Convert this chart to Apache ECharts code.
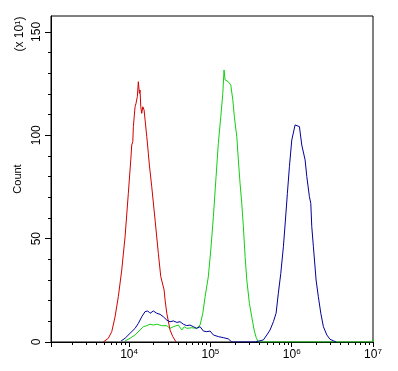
<!DOCTYPE html>
<html>
<head>
<meta charset="utf-8">
<script src="https://cdn.jsdelivr.net/npm/echarts@6/dist/echarts.min.js"></script>
<style>html,body{margin:0;padding:0;background:#fff}#c{width:398px;height:371px}</style>
</head>
<body>
<div id="c"></div>
<script>
// x values are log10(fluorescence intensity); y values are counts (x10)
const redLog = [3.684,3.745,3.787,3.828,3.868,3.910,3.951,3.991,4.021,4.033,4.046,4.053,4.074,4.086,4.102,4.114,4.127,4.135,4.144,4.156,4.169,4.185,4.197,4.218,4.237,4.250,4.258,4.279,4.320,4.360,4.390,4.431,4.443,4.464,4.504,4.538,4.578];
const redCount = [0,1.8,5.0,12.2,21.9,34.8,50.9,71.9,88.1,95.3,96.9,104.2,113.8,115.5,118.7,125.9,120.3,121.9,113.8,110.6,113.8,112.2,107.4,99.3,91.3,85.6,84.8,75.1,59.0,42.9,31.6,25.2,20.3,13.9,5.8,2.6,0];

const greenLog = [3.951,4.012,4.074,4.135,4.176,4.218,4.258,4.299,4.341,4.402,4.464,4.504,4.545,4.606,4.648,4.680,4.710,4.771,4.833,4.873,4.907,4.935,4.975,5.005,5.037,5.070,5.098,5.128,5.153,5.168,5.181,5.202,5.221,5.251,5.276,5.295,5.307,5.325,5.344,5.365,5.386,5.406,5.427,5.448,5.480,5.509,5.538,5.562,5.590,6.990,7.000];
const greenCount = [0.5,1.8,3.4,5.8,7.4,7.9,8.6,8.2,8.6,7.9,7.9,6.6,7.4,8.2,5.8,7.4,6.6,6.9,6.6,8.2,13.9,21.9,31.6,44.5,60.6,80.0,96.1,109.0,120.3,131.6,126.8,127.6,125.9,124.3,117.1,109.0,105.0,99.3,88.1,76.8,67.1,55.8,41.3,30.0,18.7,12.2,5.8,2.3,0,0,1.5];

const blueLog = [3.902,3.951,4.012,4.074,4.114,4.156,4.197,4.230,4.258,4.299,4.341,4.381,4.422,4.464,4.504,4.545,4.587,4.627,4.668,4.710,4.750,4.791,4.833,4.873,4.914,4.956,4.996,5.037,5.098,5.160,5.221,5.263,5.550,5.611,5.652,5.694,5.734,5.775,5.808,5.836,5.866,5.898,5.923,5.947,5.972,6.001,6.042,6.063,6.095,6.124,6.144,6.165,6.186,6.218,6.235,6.247,6.267,6.300,6.328,6.358,6.390,6.432,6.472,6.513,6.546];
const blueCount = [0.5,1.8,4.2,6.6,9.0,12.2,14.7,15.0,13.9,15.0,13.9,13.4,12.2,10.6,9.8,10.2,9.5,9.8,8.6,7.9,8.2,7.4,6.6,7.4,5.3,5.0,5.3,3.4,2.6,2.1,1.5,0,0,0.6,1.0,3.4,5.8,9.8,13.9,23.6,33.2,46.1,59.0,71.9,84.8,97.7,105.0,105.5,104.2,95.3,94.5,88.1,80.0,70.3,67.1,55.8,46.1,30.0,21.9,13.9,7.4,3.4,1.3,0.6,0];

const xMajorExp = [4,5,6,7];
const xMinorMult = [2,3,4,5,6,7,8,9];
const yLabels = [0,50,100,150];
const yMinor = [10,20,30,40,60,70,80,90,110,120,130,140];

const xMin = 3.04, xMax = 7, yMax = 157.7;
const xMinor = [];
[3,4,5,6].forEach(e => xMinorMult.forEach(m => { const v = e + Math.log10(m); if (v > xMin) xMinor.push(v); }));

const pairs = (xs, ys) => xs.map((x, i) => [x, ys[i]]);
const font = 'Liberation Sans, Arial, sans-serif';

const chart = echarts.init(document.getElementById('c'), null, {renderer: 'canvas'});
chart.setOption({
  animation: false,
  backgroundColor: '#fff',
  grid: {left: 51, top: 16, right: 25, bottom: 29, show: true, borderColor: '#000', borderWidth: 1, backgroundColor: 'transparent'},
  xAxis: [{
    type: 'value', min: xMin, max: xMax, position: 'bottom',
    axisLine: {show: true, lineStyle: {color: '#000', width: 1}},
    axisTick: {show: true, length: 5, lineStyle: {color: '#000'}, customValues: [xMin].concat(xMajorExp)},
    axisLabel: {
      customValues: xMajorExp, margin: 6, color: '#000', fontFamily: font,
      formatter: v => '{a|10}{b|' + Math.round(v) + '}',
      rich: {a: {fontSize: 12, fontFamily: font, color: '#000'}, b: {fontSize: 8, fontFamily: font, color: '#000', verticalAlign: 'top', padding: [0,0,6,0]}}
    },
    splitLine: {show: false}
  }, {
    type: 'value', min: xMin, max: xMax, position: 'bottom',
    axisLine: {show: false},
    axisTick: {show: true, length: 3, lineStyle: {color: '#000'}, customValues: xMinor},
    axisLabel: {show: false},
    splitLine: {show: false}
  }],
  yAxis: [{
    type: 'value', min: 0, max: yMax, position: 'left',
    name: 'Count', nameLocation: 'middle', nameRotate: 90, nameGap: 25,
    nameTextStyle: {fontSize: 11, fontFamily: font, color: '#000'},
    axisLine: {show: true, lineStyle: {color: '#000', width: 1}},
    axisTick: {show: true, length: 6, lineStyle: {color: '#000'}, customValues: yLabels},
    axisLabel: {customValues: yLabels, rotate: 90, margin: 8, fontSize: 12, fontFamily: font, color: '#000'},
    splitLine: {show: false}
  }, {
    type: 'value', min: 0, max: yMax, position: 'left',
    axisLine: {show: false},
    axisTick: {show: true, length: 3, lineStyle: {color: '#000'}, customValues: yMinor},
    axisLabel: {show: false},
    splitLine: {show: false}
  }],
  graphic: [{
    type: 'text', x: 20, y: 34, rotation: Math.PI / 2,
    style: {
      text: '{a|(x 10}{b|1}{a|)}', align: 'center', verticalAlign: 'middle',
      rich: {a: {fontSize: 12, fontFamily: font, fill: '#000'}, b: {fontSize: 8, fontFamily: font, fill: '#000', verticalAlign: 'top', padding: [0,0,5,0]}}
    }
  }],
  series: [
    {type: 'line', name: 'red', data: pairs(redLog, redCount), showSymbol: false, lineStyle: {color: '#d00000', width: 1}, itemStyle: {color: '#d00000'}, xAxisIndex: 0, yAxisIndex: 0, z: 3},
    {type: 'line', name: 'green', data: pairs(greenLog, greenCount), showSymbol: false, lineStyle: {color: '#10d010', width: 1}, itemStyle: {color: '#10d010'}, xAxisIndex: 0, yAxisIndex: 0, z: 2},
    {type: 'line', name: 'blue', data: pairs(blueLog, blueCount), showSymbol: false, lineStyle: {color: '#000099', width: 1}, itemStyle: {color: '#000099'}, xAxisIndex: 0, yAxisIndex: 0, z: 4}
  ]
});
</script>
</body>
</html>
